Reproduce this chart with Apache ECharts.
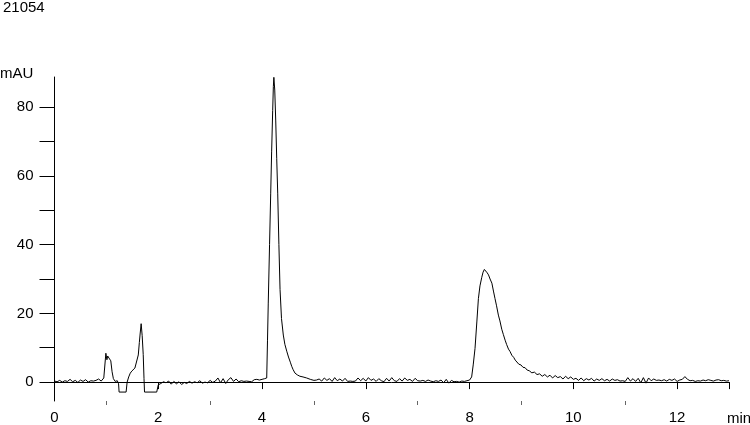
<!DOCTYPE html>
<html lang="en">

<head>
	<meta charset="UTF-8">
	<title>21054</title>
	<style>
		html, body { margin: 0; padding: 0; background: #fff; }
		#chart { width: 750px; height: 425px; }
	</style>
</head>

<body>
	<div id="chart"></div>

	<script src="https://cdn.jsdelivr.net/npm/echarts@6/dist/echarts.min.js"></script>
	<script>
		// 数据
		// baseline before first peaks
		var tA = [0, 0.05, 0.1, 0.15, 0.2, 0.25, 0.3, 0.35, 0.4, 0.45, 0.5, 0.55, 0.6, 0.65, 0.7, 0.75, 0.8, 0.85, 0.9, 0.95]
		var vA = [0.3, 0.1, 0.5, 0.0, 0.4, 0.2, 0.8, 0.1, 0.5, -0.1, 0.6, 0.2, 0.7, 0.0, 0.4, 0.3, 0.5, 0.9, 0.3, 1.2]
		// small early peaks + negative flat parts
		var tB = [0.975, 0.99, 1.01, 1.025, 1.05, 1.07, 1.085, 1.11, 1.135, 1.17, 1.21, 1.235, 1.245, 1.38, 1.40, 1.43, 1.46, 1.49, 1.52, 1.55, 1.585, 1.615, 1.635, 1.65, 1.67, 1.69, 1.71, 1.725, 1.735, 1.97, 2.0]
		var vB = [1.0, 8.4, 6.5, 7.6, 7.0, 6.8, 6.2, 3.0, 1.0, 0.2, 0.4, -0.5, -2.9, -2.9, 0.0, 1.5, 2.6, 3.2, 3.7, 4.1, 4.6, 7.9, 11.5, 14.0, 17.0, 13.5, 8.0, 1.0, -2.9, -2.9, -0.8]
		// baseline 2 - 4 min
		var tC = [2.05, 2.1, 2.15, 2.2, 2.25, 2.3, 2.35, 2.4, 2.45, 2.5, 2.55, 2.6, 2.65, 2.7, 2.75, 2.8, 2.85, 2.9, 2.95, 3.0, 3.05, 3.1, 3.15, 3.2, 3.25, 3.3, 3.35, 3.4, 3.45, 3.5, 3.55, 3.6, 3.65, 3.7, 3.75, 3.8, 3.85, 3.9, 3.95, 4.0, 4.05]
		var vC = [-0.4, 0.1, -0.2, 0.3, -0.6, 0.2, -0.5, 0.1, -0.7, -0.1, -0.4, 0.2, -0.3, 0.1, -0.2, 0.4, -0.3, 0.0, -0.2, 0.5, -0.1, 0.3, 1.2, -0.2, 1.0, -0.4, 0.7, 1.3, 0.2, 0.9, 0.1, 0.4, 0.2, 0.3, 0.2, 0.1, 0.7, 0.8, 0.6, 0.8, 1.0]
		// main peak ~4.2 min
		var tD = [4.09, 4.105, 4.12, 4.145, 4.167, 4.185, 4.205, 4.218, 4.228, 4.245, 4.264, 4.283, 4.302, 4.325, 4.347, 4.375, 4.41, 4.44, 4.476, 4.51, 4.545, 4.572, 4.58, 4.60, 4.636, 4.68, 4.73, 4.79, 4.86, 4.93, 5.0]
		var vD = [1.2, 12, 23, 40, 55, 67, 79, 86, 88.7, 85, 76, 65, 55, 40, 27, 18.5, 13.7, 11, 9, 7.3, 5.8, 4.6, 5.0, 3.6, 2.6, 2.1, 1.7, 1.5, 1.2, 0.8, 0.5]
		// baseline 5 - 8 min
		var tE = [5.05, 5.1, 5.15, 5.2, 5.25, 5.3, 5.35, 5.4, 5.45, 5.5, 5.55, 5.6, 5.65, 5.7, 5.75, 5.8, 5.85, 5.9, 5.95, 6.0, 6.05, 6.1, 6.15, 6.2, 6.25, 6.3, 6.35, 6.4, 6.45, 6.5, 6.55, 6.6, 6.65, 6.7, 6.75, 6.8, 6.85, 6.9, 6.95, 7.0, 7.05, 7.1, 7.15, 7.2, 7.25, 7.3, 7.35, 7.4, 7.45, 7.5, 7.55, 7.6, 7.65, 7.7, 7.75, 7.8, 7.85, 7.9, 7.95, 8.0, 8.04]
		var vE = [0.6, 0.9, 0.3, 1.2, 0.5, 1.0, 0.2, 1.3, 0.4, 0.9, 0.3, 1.1, 0.2, 0.3, 0.2, 0.3, 1.2, 0.4, 1.1, 0.3, 1.3, 0.5, 0.9, 0.2, 1.0, 0.4, 0.1, 1.1, 0.3, 1.3, 0.4, 0.2, 1.0, 0.3, 1.2, 0.5, 0.8, 0.2, 1.1, 0.4, 0.3, 0.5, 0.2, 0.6, 0.3, 0.1, 0.4, 0.2, 0.6, -0.2, 0.8, -0.3, 0.5, 0.1, 0.2, 0.0, 0.3, 0.2, 0.4, 0.6, 1.5]
		// second peak ~8.3 min with tail
		var tF = [8.07, 8.105, 8.14, 8.17, 8.2, 8.235, 8.26, 8.285, 8.31, 8.34, 8.365, 8.395, 8.43, 8.46, 8.49, 8.52, 8.555, 8.585, 8.62, 8.65, 8.685, 8.715, 8.75, 8.78, 8.815, 8.85, 8.88, 8.91, 8.95, 8.99, 9.03, 9.07, 9.11, 9.15, 9.2, 9.25, 9.3, 9.35, 9.4, 9.45, 9.5, 9.55, 9.6, 9.65, 9.7, 9.75, 9.8, 9.85, 9.9, 9.95, 10.0]
		var vF = [5.0, 9.8, 17.5, 24.3, 28.0, 30.5, 32.0, 32.8, 32.5, 31.8, 31.2, 30.0, 28.8, 26.5, 24.3, 22.2, 19.5, 17.8, 15.4, 13.9, 12.2, 10.9, 9.6, 8.9, 7.8, 7.2, 6.4, 6.0, 5.2, 5.0, 4.3, 4.2, 3.5, 3.3, 2.7, 2.9, 2.2, 2.4, 1.7, 2.2, 1.5, 2.0, 1.2, 1.9, 1.3, 1.6, 0.9, 1.7, 1.0, 1.5, 0.8]
		// baseline 10 - 13 min
		var tG = [10.05, 10.1, 10.15, 10.2, 10.25, 10.3, 10.35, 10.4, 10.45, 10.5, 10.55, 10.6, 10.65, 10.7, 10.75, 10.8, 10.85, 10.9, 10.95, 11.0, 11.05, 11.1, 11.15, 11.2, 11.25, 11.3, 11.35, 11.4, 11.45, 11.5, 11.55, 11.6, 11.65, 11.7, 11.75, 11.8, 11.85, 11.9, 11.95, 12.0, 12.05, 12.1, 12.15, 12.2, 12.25, 12.3, 12.35, 12.4, 12.45, 12.5, 12.55, 12.6, 12.65, 12.7, 12.75, 12.8, 12.85, 12.9, 12.95, 13.0]
		var vG = [1.1, 0.5, 1.2, 0.4, 1.0, 0.6, 1.1, 0.3, 0.9, 0.5, 1.0, 0.4, 0.8, 0.3, 0.9, 0.5, 0.7, 0.3, 0.4, 0.2, 1.3, 0.3, 1.0, 0.2, 1.1, -0.2, 1.3, -0.3, 1.2, 0.4, 0.9, 0.5, 0.6, 0.4, 0.7, 0.3, 0.8, 0.5, 0.9, 0.2, 0.6, 0.8, 1.6, 0.8, 0.4, 0.5, 0.2, 0.4, 0.3, 0.6, 0.4, 0.7, 0.5, 0.3, 0.6, 0.7, 0.4, 0.5, 0.3, 0.4]

		// 坐标轴刻度
		var xTicks = [0, 2, 4, 6, 8, 10, 12, 13]
		var xMinorTicks = [1, 3, 5, 7, 9, 11]
		var xLabels = [0, 2, 4, 6, 8, 10, 12]
		var yTicks = [0, 10, 20, 30, 40, 50, 60, 70, 80]
		var yLabels = [0, 20, 40, 60, 80]

		var times = [].concat(tA, tB, tC, tD, tE, tF, tG)
		var mau = [].concat(vA, vB, vC, vD, vE, vF, vG)
		var trace = times.map(function (t, i) { return [t, mau[i]] })

		var font = 'Liberation Sans'
		var myChart = echarts.init(document.getElementById('chart'))
		var option = {
			animation: false,
			backgroundColor: '#fff',
			grid: { left: 54.5, right: 21, top: 77, bottom: 22 },
			xAxis: [{
				type: 'value',
				min: 0,
				max: 13,
				axisLine: { lineStyle: { color: '#000', width: 1 } },
				axisTick: { customValues: xTicks, length: 7, lineStyle: { color: '#000' } },
				axisLabel: { customValues: xLabels, margin: 9, color: '#000', fontSize: 15, fontFamily: font },
				splitLine: { show: false }
			}, {
				type: 'value',
				min: 0,
				max: 13,
				position: 'bottom',
				axisLine: { show: false },
				axisTick: { customValues: xMinorTicks, length: 4, lineStyle: { color: '#666' } },
				axisLabel: { show: false },
				splitLine: { show: false }
			}],
			yAxis: {
				type: 'value',
				min: -5.5,
				max: 88.8,
				axisLine: { show: true, lineStyle: { color: '#000', width: 1 } },
				axisTick: { show: true, customValues: yTicks, length: 15, lineStyle: { color: '#000' } },
				axisLabel: { customValues: yLabels, margin: 21, color: '#000', fontSize: 15, fontFamily: font },
				splitLine: { show: false }
			},
			graphic: [
				{ type: 'text', left: 3, top: 0, style: { text: '21054', fontSize: 15, fontFamily: font, fill: '#000' } },
				{ type: 'text', left: 0, top: 66, style: { text: 'mAU', fontSize: 15, fontFamily: font, fill: '#000' } },
				{ type: 'text', left: 727, top: 411, style: { text: 'min', fontSize: 15, fontFamily: font, fill: '#000' } }
			],
			series: [{
				type: 'line',
				data: trace,
				showSymbol: false,
				symbol: 'none',
				sampling: null,
				lineStyle: { color: '#000', width: 1 },
				xAxisIndex: 0
			}]
		}
		myChart.setOption(option)
	</script>
</body>

</html>
